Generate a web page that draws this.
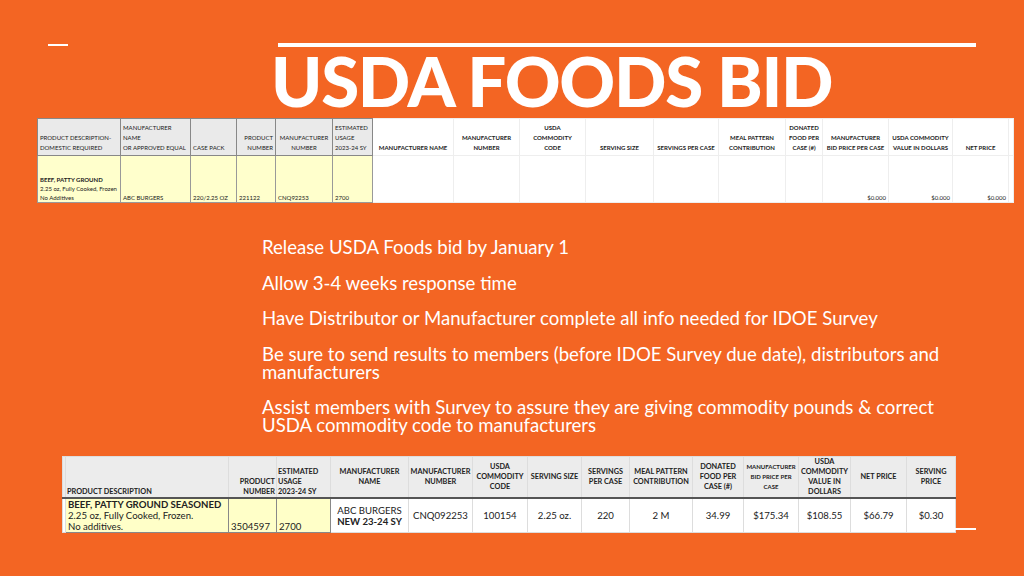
<!DOCTYPE html>
<html>
<head>
<meta charset="utf-8">
<script src="https://cdn.jsdelivr.net/npm/chart.js"></script>
<style>
  html, body { margin: 0; padding: 0; }
  body { width: 1024px; height: 576px; background: #f36523; position: relative; overflow: hidden; font-family: Lato, sans-serif; }
  .rule { position: absolute; background: #fff; }
  h1 { position: absolute; left: 271px; top: 41px; margin: 0; color: #fff; font-family: Lato, sans-serif; font-weight: 900; font-size: 69px; letter-spacing: -1.3px; line-height: 80px; white-space: nowrap; }
  .pts { position: absolute; left: 262px; top: 238px; width: 685px; color: #fff; font-size: 18.6px; line-height: 18px; }
  .pts p { margin: 0 0 17.5px 0; }
  table { position: absolute; border-collapse: collapse; table-layout: fixed; font-family: Lato, sans-serif; color: #222; }
  td { overflow: hidden; padding: 0 2px; white-space: nowrap; }
  #t1 { left: 37px; top: 118px; background: #fff; font-size: 6px; line-height: 10px; }
  #t1 td { border: 1px solid #ddd; }
  #t1 tr.h td { height: 34px; vertical-align: bottom; padding-bottom: 2px; }
  #t1 tr.h td.l { background: #eaeaea; border-color: #888; }
  #t1 tr.h td.r { font-weight: bold; text-align: center; border-color: #eee; }
  #t1 tr.d td { height: 46px; vertical-align: bottom; line-height: 9px; }
  #t1 tr.d td.l { background: #ffffcc; border-color: #999; }
  #t1 tr.d td.r { text-align: right; border-color: #eee; }
  #t2 { left: 62px; top: 456px; background: #fff; font-size: 7.3px; line-height: 10px; }
  #t2 td { border: 1px solid #ddd; }
  #t2 tr.h td { height: 40px; background: #ececec; font-weight: bold; text-align: center; vertical-align: middle; border-bottom: 2px solid #555; padding: 0 1px; }
  #t2 tr.d td { height: 33px; font-size: 9.6px; line-height: 11px; text-align: center; vertical-align: middle; }
  #t2 tr.d td.y { background: #ffffc8; text-align: left; vertical-align: bottom; border-color: #888; }
  #t2 tr.h td.lb { text-align: left; vertical-align: bottom; }
  #t2 .sm { font-size: 6px; line-height: 8.5px; }
</style>
</head>
<body>
<div class="rule" style="left:48px;top:44px;width:20px;height:2px"></div>
<div class="rule" style="left:278px;top:43px;width:698px;height:4px"></div>
<h1>USDA FOODS BID</h1>

<table id="t1"></table>

<div class="pts" id="pts"></div>

<table id="t2"></table>
<div class="rule" style="left:955px;top:528px;width:21px;height:2px"></div>

<script>
// bid sheet (top table)
const bidHeadersLeft = ["PRODUCT DESCRIPTION-<br>DOMESTIC REQUIRED", "MANUFACTURER<br>NAME<br>OR APPROVED EQUAL", "CASE PACK", "PRODUCT<br>NUMBER", "MANUFACTURER<br>NUMBER", "ESTIMATED<br>USAGE<br>2023-24 SY"];
const bidHeadersRight = ["MANUFACTURER NAME", "MANUFACTURER<br>NUMBER", "USDA<br>COMMODITY<br>CODE", "SERVING SIZE", "SERVINGS PER CASE", "MEAL PATTERN<br>CONTRIBUTION", "DONATED<br>FOOD PER<br>CASE (#)", "MANUFACTURER<br>BID PRICE PER CASE", "USDA COMMODITY<br>VALUE IN DOLLARS", "NET PRICE", ""];
const bidValuesLeft = ["<b>BEEF, PATTY GROUND</b><br>2.25 oz, Fully Cooked, Frozen<br>No Additives", "ABC BURGERS", "220/2.25 OZ", "221122", "CNQ92253", "2700"];
const bidValuesRight = ["", "", "", "", "", "", "", "$0.000", "$0.000", "$0.000", ""];
const bidWidthsLeft = [83, 70, 46, 39, 57, 40];
const bidWidthsRight = [81, 66, 66, 68, 65, 67, 37, 66, 64, 56, 5];

// survey example (bottom table)
const surveyHeaders = ["", "PRODUCT DESCRIPTION", "PRODUCT<br>NUMBER", "ESTIMATED<br>USAGE<br>2023-24 SY", "MANUFACTURER<br>NAME", "MANUFACTURER<br>NUMBER", "USDA<br>COMMODITY<br>CODE", "SERVING SIZE", "SERVINGS<br>PER CASE", "MEAL PATTERN<br>CONTRIBUTION", "DONATED<br>FOOD PER<br>CASE (#)", "<span class='sm'>MANUFACTURER<br>BID PRICE PER<br>CASE</span>", "USDA<br>COMMODITY<br>VALUE IN<br>DOLLARS", "NET PRICE", "SERVING<br>PRICE"];
const surveyValues = ["", "<b>BEEF, PATTY GROUND SEASONED</b><br>2.25 oz, Fully Cooked, Frozen.<br>No additives.", "3504597", "2700", "ABC BURGERS<br><b>NEW 23-24 SY</b>", "CNQ092253", "100154", "2.25 oz.", "220", "2 M", "34.99", "$175.34", "$108.55", "$66.79", "$0.30"];
const surveyWidths = [3, 163, 48, 54, 78, 64, 55, 54, 48, 63, 51, 55, 52, 56, 49];

const points = [
  "Release USDA Foods bid by January 1",
  "Allow 3-4 weeks response time",
  "Have Distributor or Manufacturer complete all info needed for IDOE Survey",
  "Be sure to send results to members (before IDOE Survey due date), distributors and manufacturers",
  "Assist members with Survey to assure they are giving commodity pounds & correct USDA commodity code to manufacturers"
];

function colgroup(widths) {
  return "<colgroup>" + widths.map(w => `<col style="width:${w}px">`).join("") + "</colgroup>";
}

// top table
const t1 = document.getElementById("t1");
const alignL = ["left", "left", "left", "right", "center", "left"];
let html = colgroup(bidWidthsLeft.concat(bidWidthsRight));
html += "<tr class='h'>" + bidHeadersLeft.map((h, i) => `<td class="l" style="text-align:${alignL[i]}">${h}</td>`).join("") +
  bidHeadersRight.map(h => `<td class="r">${h}</td>`).join("") + "</tr>";
html += "<tr class='d'>" + bidValuesLeft.map(v => `<td class="l">${v}</td>`).join("") +
  bidValuesRight.map(v => `<td class="r">${v}</td>`).join("") + "</tr>";
t1.innerHTML = html;
t1.style.width = bidWidthsLeft.concat(bidWidthsRight).reduce((a, b) => a + b, 0) + "px";

// bullet text
document.getElementById("pts").innerHTML = points.map(p => `<p>${p}</p>`).join("");

// bottom table
const t2 = document.getElementById("t2");
html = colgroup(surveyWidths);
html += "<tr class='h'>" + surveyHeaders.map((h, i) => {
  let cls = (i === 1 || i === 3) ? "lb" : "";
  let st = i === 2 ? "text-align:right;vertical-align:bottom" : "";
  return `<td class="${cls}" style="${st}">${h}</td>`;
}).join("") + "</tr>";
html += "<tr class='d'>" + surveyValues.map((v, i) => {
  let cls = (i >= 1 && i <= 3) ? "y" : "";
  return `<td class="${cls}">${v}</td>`;
}).join("") + "</tr>";
t2.innerHTML = html;
t2.style.width = surveyWidths.reduce((a, b) => a + b, 0) + "px";
</script>
</body>
</html>
